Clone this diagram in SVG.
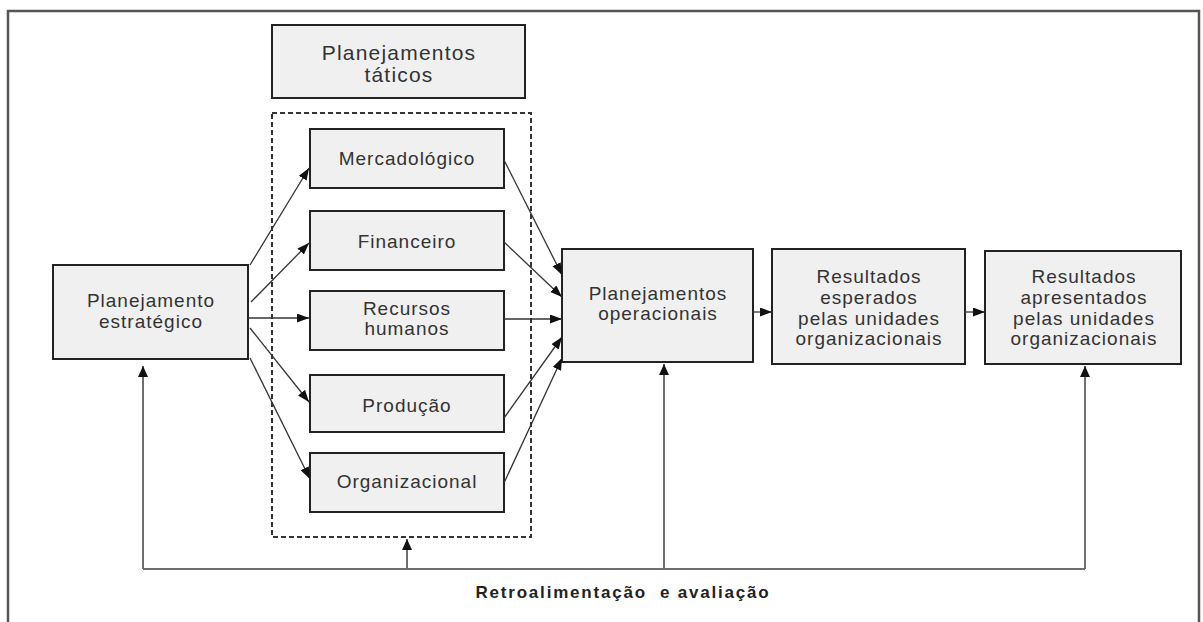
<svg xmlns="http://www.w3.org/2000/svg" width="1203" height="622" viewBox="0 0 1203 622">
  <style>
    .box { fill: #f0f0f0; stroke: #222; stroke-width: 2; }
    .lbl { font-family: "Liberation Sans", Arial, sans-serif; font-size: 19px; fill: #333; text-anchor: middle; letter-spacing: 1px; }
    .big { font-size: 21px; letter-spacing: 1.2px; }
    .edge { stroke: #333; stroke-width: 1.3; fill: none; marker-end: url(#arr); }
    .fb { stroke: #6e6e6e; stroke-width: 2; fill: none; }
    .fbArrow { stroke: #6e6e6e; stroke-width: 2; fill: none; marker-end: url(#arrUp); }
  </style>
  <defs>
    <marker id="arr" markerUnits="userSpaceOnUse" markerWidth="13" markerHeight="10" refX="12" refY="4.5" orient="auto">
      <path d="M0,0 L12,4.5 L0,9 z" fill="#111"/>
    </marker>
    <marker id="arrUp" markerUnits="userSpaceOnUse" markerWidth="12" markerHeight="12" refX="11" refY="5" orient="auto">
      <path d="M0,0 L11,5 L0,10 z" fill="#111"/>
    </marker>
  </defs>

  <rect width="1203" height="622" fill="#fff"/>
  <!-- outer frame (open at the bottom) -->
  <path d="M8,622 V11 H1199 V622" fill="none" stroke="#555" stroke-width="2.5"/>

  <g id="taticos-titulo">
    <rect class="box" x="272" y="25" width="253" height="73"/>
    <text class="lbl big" x="399" y="60">Planejamentos</text>
    <text class="lbl big" x="399" y="82">táticos</text>
  </g>

  <g id="grupo-taticos">
    <rect x="272" y="113" width="259" height="424" fill="none" stroke="#333" stroke-width="2" stroke-dasharray="5,3"/>
  </g>

  <g id="estrategico">
    <rect class="box" x="53" y="265" width="195" height="94"/>
    <text class="lbl" x="151" y="307">Planejamento</text>
    <text class="lbl" x="151" y="328">estratégico</text>
  </g>

  <g id="mercadologico">
    <rect class="box" x="310" y="129" width="194" height="59"/>
    <text class="lbl" x="407" y="165">Mercadológico</text>
  </g>
  <g id="financeiro">
    <rect class="box" x="310" y="211" width="194" height="59"/>
    <text class="lbl" x="407" y="248">Financeiro</text>
  </g>
  <g id="recursos-humanos">
    <rect class="box" x="310" y="291" width="194" height="59"/>
    <text class="lbl" x="407" y="315">Recursos</text>
    <text class="lbl" x="407" y="335">humanos</text>
  </g>
  <g id="producao">
    <rect class="box" x="310" y="375" width="194" height="57"/>
    <text class="lbl" x="407" y="412">Produção</text>
  </g>
  <g id="organizacional">
    <rect class="box" x="310" y="453" width="194" height="59"/>
    <text class="lbl" x="407" y="488">Organizacional</text>
  </g>

  <g id="operacionais">
    <rect class="box" x="562" y="249" width="191" height="113"/>
    <text class="lbl" x="658" y="300">Planejamentos</text>
    <text class="lbl" x="658" y="320">operacionais</text>
  </g>

  <g id="resultados-esperados">
    <rect class="box" x="772" y="249" width="193" height="115"/>
    <text class="lbl" x="869" y="283">Resultados</text>
    <text class="lbl" x="869" y="304">esperados</text>
    <text class="lbl" x="869" y="325">pelas unidades</text>
    <text class="lbl" x="869" y="345">organizacionais</text>
  </g>

  <g id="resultados-apresentados">
    <rect class="box" x="985" y="251" width="196" height="113"/>
    <text class="lbl" x="1084" y="283">Resultados</text>
    <text class="lbl" x="1084" y="304">apresentados</text>
    <text class="lbl" x="1084" y="325">pelas unidades</text>
    <text class="lbl" x="1084" y="345">organizacionais</text>
  </g>

  <g id="conectores">
    <!-- estratégico to the tactical plans -->
    <line class="edge" x1="250" y1="265" x2="309" y2="168"/>
    <line class="edge" x1="251" y1="302" x2="309" y2="243"/>
    <line class="edge" x1="248" y1="318" x2="309" y2="318"/>
    <line class="edge" x1="250" y1="328" x2="309" y2="402"/>
    <line class="edge" x1="250" y1="358" x2="310" y2="479"/>
    <!-- tactical plans to operacionais -->
    <line class="edge" x1="504" y1="160" x2="562" y2="275"/>
    <line class="edge" x1="504" y1="242" x2="562" y2="297"/>
    <line class="edge" x1="504" y1="319" x2="562" y2="319"/>
    <line class="edge" x1="504" y1="418" x2="562" y2="337"/>
    <line class="edge" x1="504" y1="483" x2="562" y2="358"/>
    <!-- main chain -->
    <line class="edge" x1="753" y1="312" x2="772" y2="312"/>
    <line class="edge" x1="965" y1="312" x2="985" y2="312"/>
    <!-- feedback loop -->
    <path class="fb" d="M143,569 H1085"/>
    <line class="fbArrow" x1="143" y1="569" x2="143" y2="366"/>
    <line class="fbArrow" x1="407" y1="569" x2="407" y2="539"/>
    <line class="fbArrow" x1="664" y1="569" x2="664" y2="364"/>
    <line class="fbArrow" x1="1085" y1="569" x2="1085" y2="366"/>
  </g>

  <text x="623" y="598" font-family="Liberation Sans, Arial, sans-serif" font-size="17" font-weight="bold" fill="#222" text-anchor="middle" letter-spacing="1.8" xml:space="preserve">Retroalimentação  e avaliação</text>
</svg>
